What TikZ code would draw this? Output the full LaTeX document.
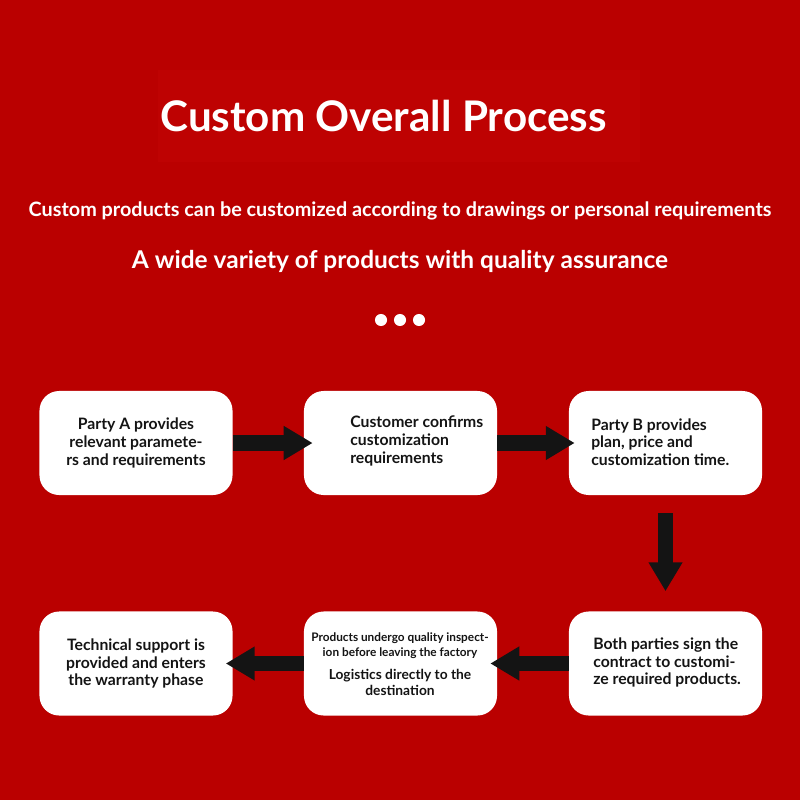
\documentclass[tikz,border=0pt]{standalone}
\usepackage{fontspec}
\setmainfont{Lato}
\usetikzlibrary{arrows.meta}
\definecolor{bgred}{RGB}{186,0,0}
\definecolor{bandred}{RGB}{190,2,2}
\definecolor{ink}{RGB}{20,20,20}
\tikzset{
  stepbox/.style={fill=white, rounded corners=14pt, minimum width=4.825cm,
    minimum height=2.6cm, inner sep=0pt, text=ink,
    font=\fontsize{11.2}{12.5}\selectfont\bfseries},
  boxtext/.style={inner sep=0pt, text=ink, font=\fontsize{11.2}{12.5}\selectfont\bfseries},
  flow/.style={ink, line width=10.7pt, -{Triangle[length=20.6pt,width=22.8pt]}},
}
\begin{document}
\begin{tikzpicture}[x=0.025cm, y=-0.025cm]
	% background and faint title band
	\fill[bgred] (0,0) rectangle (800,800);
	\fill[bandred] (158,70) rectangle (640,162);

	% headings
	\node[text=white, font=\fontsize{30}{36}\selectfont\bfseries] (title) at (383.5,116) {Custom Overall Process};
	\node[text=white, anchor=base, font=\fontsize{14.1}{17}\selectfont\bfseries] (sub1) at (400,217) {Custom products can be customized according to drawings or personal requirements};
	\node[text=white, anchor=base, font=\fontsize{17.4}{21}\selectfont\bfseries] (sub2) at (400,268) {A wide variety of products with quality assurance};
	\foreach \dx in {381,400,419}
		\fill[white] (\dx,320) circle (4.3pt);

	% process boxes
	\node[stepbox, align=center] (b1) at (136,443) {Party A provides\\relevant paramete-\\rs and requirements};
	\node[stepbox] (b2) at (400.5,443) {};
	\node[boxtext, anchor=west, align=left] (t2) at (350,441) {Customer confirms\\customization\\requirements};
	\node[stepbox] (b3) at (665.5,443) {};
	\node[boxtext, anchor=west, align=left] (t3) at (591,442) {Party B provides\\plan, price and\\customization time.};
	\node[stepbox] (b4) at (665.5,663.5) {};
	\node[boxtext, anchor=west, align=left] (t4) at (593,662.5) {Both parties sign the\\contract to customi-\\ze required products.};
	\node[stepbox] (b5) at (400.5,663.5) {};
	\node[boxtext, align=center, font=\fontsize{8.4}{10.7}\selectfont\bfseries] (t5a) at (400,645.5) {Products undergo quality inspect-\\ion before leaving the factory};
	\node[boxtext, align=center, font=\fontsize{9.8}{11.4}\selectfont\bfseries] (t5b) at (400,682) {Logistics directly to the\\destination};
	\node[stepbox, align=center] (b6) at (136,663.5) {Technical support is\\provided and enters\\the warranty phase};

	% arrows
	\draw[flow, shorten >=-6.4pt] (b1) -- (b2);
	\draw[flow, shorten >=-4.3pt] (b2) -- (b3);
	\draw[flow, shorten <=12.8pt, shorten >=14.2pt] (b3) -- (b4);
	\draw[flow, shorten >=-5pt] (b4) -- (b5);
	\draw[flow, shorten >=-5pt] (b5) -- (b6);
\end{tikzpicture}
\end{document}
